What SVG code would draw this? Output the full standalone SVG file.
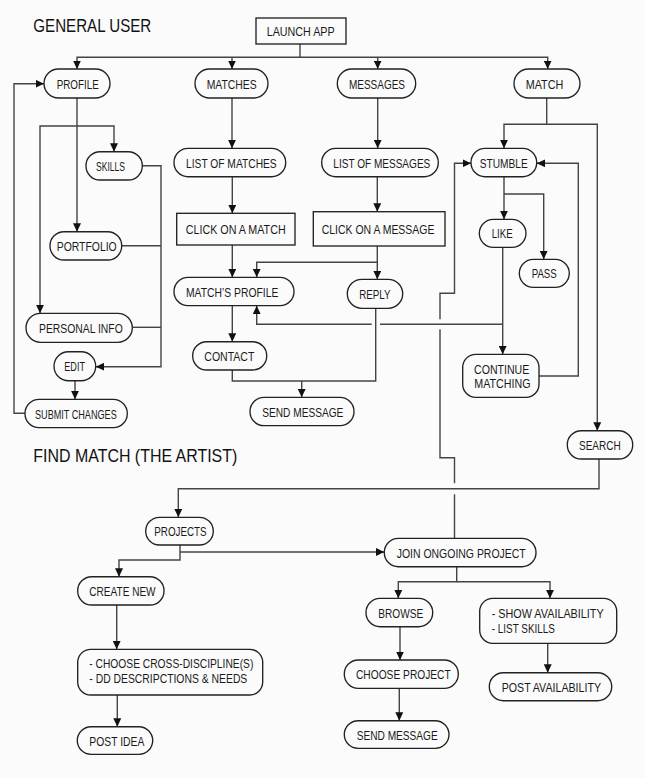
<svg xmlns="http://www.w3.org/2000/svg" width="645" height="778" viewBox="0 0 645 778">
<defs>
<marker id="ah" markerUnits="userSpaceOnUse" markerWidth="9" markerHeight="8" refX="8.5" refY="4" orient="auto">
<path d="M0,0 L8.5,4 L0,8 z" fill="#111"/>
</marker>
<style>
.bg{fill:#fbfbfb}
.n{fill:#fbfbfb;stroke:#222;stroke-width:1.35}
.t{font-family:"Liberation Sans",Arial,sans-serif;font-size:13.5px;fill:#1a1a1a}
.h{font-family:"Liberation Sans",Arial,sans-serif;font-size:18px;fill:#111}
.c{fill:none;stroke:#444;stroke-width:1.4}
.a{marker-end:url(#ah)}
</style>
</defs>
<rect class="bg" x="0" y="0" width="645" height="778"/>
<text class="h" x="33.3" y="31.5" textLength="118" lengthAdjust="spacingAndGlyphs">GENERAL USER</text>
<text class="h" x="33.3" y="461.7" textLength="204" lengthAdjust="spacingAndGlyphs">FIND MATCH (THE ARTIST)</text>

<g id="connectors">
<path class="c a" d="M300,44 V57.3 H77 V69"/>
<path class="c a" d="M300,57.3 H547.7 V69"/>
<path class="c a" d="M232,57.3 V69"/>
<path class="c a" d="M377.7,57.3 V69"/>
<path class="c a" d="M77,98 V231.7"/>
<path class="c a" d="M77,126 H114 V151.7"/>
<path class="c a" d="M77,126 H40 V313.3"/>
<path class="c a" d="M142.3,165.7 H161 V366.7 H95.7"/>
<path class="c" d="M121.7,245.7 H161"/>
<path class="c" d="M132.3,327.3 H161"/>
<path class="c a" d="M75,380.7 V399.3"/>
<path class="c a" d="M25,413.3 H14 V83.7 H44"/>
<path class="c a" d="M232,98 V148.3"/>
<path class="c a" d="M232.3,176.7 V213.3"/>
<path class="c a" d="M232.3,245 V277.3"/>
<path class="c a" d="M232.3,305.7 V341.7"/>
<path class="c" d="M232.3,370 V381 H375.7 V308.3"/>
<path class="c a" d="M301.7,381 V397.3"/>
<path class="c a" d="M377.7,98 V148.3"/>
<path class="c a" d="M377.3,176.7 V211.7"/>
<path class="c a" d="M377.3,246 V279.3"/>
<path class="c a" d="M377.3,262.3 H256.7 V277.3"/>
<path class="c a" d="M502.7,247.3 V354.3"/>
<path class="c" d="M502.7,324.3 H380"/>
<path class="c a" d="M371.7,324.3 H256.7 V305.7"/>
<path class="c a" d="M546.7,98 V124.3 H504 V148.3"/>
<path class="c a" d="M546.7,124.3 H597.3 V430.7"/>
<path class="c a" d="M504,176.7 V219.3"/>
<path class="c a" d="M504,194 H543.7 V259.3"/>
<path class="c a" d="M539,376 H578.3 V163.3 H536.7"/>
<path class="c" d="M454.5,538.3 V494.3"/>
<path class="c" d="M454.5,483.3 V457.7 H440 V329.3"/>
<path class="c a" d="M440,319.3 V293.3 H454.5 V163.3 H471"/>
<path class="c a" d="M599,459 V488.7 H178.3 V517.3"/>
<path class="c a" d="M180,545 V560 H119 V576.7"/>
<path class="c a" d="M180,552 H384.3"/>
<path class="c a" d="M456.7,566.7 V581.7 H398.3 V598.3"/>
<path class="c a" d="M456.7,581.7 H550 V598.3"/>
<path class="c a" d="M116.7,605 V649.3"/>
<path class="c a" d="M117.3,695 V726.7"/>
<path class="c a" d="M400,626.7 V660"/>
<path class="c a" d="M399.3,688.3 V720.7"/>
<path class="c a" d="M547.7,643.3 V672.7"/>
</g>

<g id="launch-app"><rect class="n" x="256" y="18" width="90" height="26"/><text class="t" x="266.7" y="36.4" textLength="68" lengthAdjust="spacingAndGlyphs">LAUNCH APP</text></g>
<g id="profile"><rect class="n" x="44" y="69" width="66" height="29" rx="14.5"/><text class="t" x="56.7" y="88.7" textLength="42" lengthAdjust="spacingAndGlyphs">PROFILE</text></g>
<g id="matches"><rect class="n" x="195" y="69" width="73" height="29" rx="14.5"/><text class="t" x="206.7" y="88.7" textLength="50" lengthAdjust="spacingAndGlyphs">MATCHES</text></g>
<g id="messages"><rect class="n" x="337.3" y="69" width="78.4" height="29" rx="14.5"/><text class="t" x="349" y="88.7" textLength="56" lengthAdjust="spacingAndGlyphs">MESSAGES</text></g>
<g id="match"><rect class="n" x="514" y="69" width="66" height="29" rx="14.5"/><text class="t" x="525.7" y="88.7" textLength="37.6" lengthAdjust="spacingAndGlyphs">MATCH</text></g>
<g id="skills"><rect class="n" x="86" y="151.7" width="56.3" height="28.3" rx="14"/><text class="t" x="96" y="170.9" textLength="29" lengthAdjust="spacingAndGlyphs">SKILLS</text></g>
<g id="list-of-matches"><rect class="n" x="174" y="148.3" width="111.7" height="28.4" rx="14"/><text class="t" x="186" y="167.5" textLength="90.7" lengthAdjust="spacingAndGlyphs">LIST OF MATCHES</text></g>
<g id="list-of-messages"><rect class="n" x="321.7" y="148.3" width="116.6" height="28.4" rx="14"/><text class="t" x="333.3" y="167.5" textLength="97" lengthAdjust="spacingAndGlyphs">LIST OF MESSAGES</text></g>
<g id="stumble"><rect class="n" x="471" y="148.3" width="65.7" height="28.4" rx="14"/><text class="t" x="479.7" y="167.5" textLength="48" lengthAdjust="spacingAndGlyphs">STUMBLE</text></g>
<g id="portfolio"><rect class="n" x="50" y="231.7" width="71.7" height="28.3" rx="14"/><text class="t" x="56.7" y="250.9" textLength="60" lengthAdjust="spacingAndGlyphs">PORTFOLIO</text></g>
<g id="click-on-a-match"><rect class="n" x="176.7" y="213.3" width="118.3" height="31.7"/><text class="t" x="185.7" y="234.2" textLength="100" lengthAdjust="spacingAndGlyphs">CLICK ON A MATCH</text></g>
<g id="click-on-a-message"><rect class="n" x="313.3" y="211.7" width="131.7" height="34.3"/><text class="t" x="321.7" y="234.2" textLength="112.7" lengthAdjust="spacingAndGlyphs">CLICK ON A MESSAGE</text></g>
<g id="like"><rect class="n" x="479.3" y="219.3" width="46.7" height="28" rx="14"/><text class="t" x="491.7" y="238.4" textLength="21" lengthAdjust="spacingAndGlyphs">LIKE</text></g>
<g id="pass"><rect class="n" x="519.3" y="259.3" width="50" height="28" rx="14"/><text class="t" x="531.7" y="278.4" textLength="25" lengthAdjust="spacingAndGlyphs">PASS</text></g>
<g id="matchs-profile"><rect class="n" x="174" y="277.3" width="120" height="28.4" rx="14"/><text class="t" x="186" y="296.5" textLength="92.3" lengthAdjust="spacingAndGlyphs">MATCH’S PROFILE</text></g>
<g id="reply"><rect class="n" x="347.3" y="279.3" width="55.4" height="29" rx="14.5"/><text class="t" x="359.3" y="298.8" textLength="31.3" lengthAdjust="spacingAndGlyphs">REPLY</text></g>
<g id="personal-info"><rect class="n" x="26" y="313.3" width="106.3" height="29" rx="14.5"/><text class="t" x="39" y="332.8" textLength="83.7" lengthAdjust="spacingAndGlyphs">PERSONAL INFO</text></g>
<g id="contact"><rect class="n" x="192.7" y="341.7" width="74" height="28.3" rx="14"/><text class="t" x="204.3" y="360.9" textLength="50" lengthAdjust="spacingAndGlyphs">CONTACT</text></g>
<g id="edit"><rect class="n" x="54" y="351.7" width="41.7" height="29" rx="14.5"/><text class="t" x="64.3" y="371.2" textLength="20.7" lengthAdjust="spacingAndGlyphs">EDIT</text></g>
<g id="continue-matching"><rect class="n" x="462.7" y="354.3" width="76.3" height="43" rx="13"/><text class="t" x="474" y="373.5" textLength="55.3" lengthAdjust="spacingAndGlyphs">CONTINUE</text><text class="t" x="474.3" y="388.1" textLength="56.3" lengthAdjust="spacingAndGlyphs">MATCHING</text></g>
<g id="send-message-1"><rect class="n" x="250" y="397.3" width="104" height="28.4" rx="14"/><text class="t" x="262.3" y="416.5" textLength="81" lengthAdjust="spacingAndGlyphs">SEND MESSAGE</text></g>
<g id="submit-changes"><rect class="n" x="25" y="399.3" width="102.3" height="28.4" rx="14"/><text class="t" x="35" y="418.5" textLength="81.7" lengthAdjust="spacingAndGlyphs">SUBMIT CHANGES</text></g>
<g id="search"><rect class="n" x="567.3" y="430.7" width="65.4" height="28.3" rx="14"/><text class="t" x="579" y="449.9" textLength="41.7" lengthAdjust="spacingAndGlyphs">SEARCH</text></g>
<g id="projects"><rect class="n" x="145.7" y="517.3" width="67.6" height="27.7" rx="13.8"/><text class="t" x="154.3" y="536.2" textLength="52.3" lengthAdjust="spacingAndGlyphs">PROJECTS</text></g>
<g id="join-ongoing-project"><rect class="n" x="384.3" y="538.3" width="151.7" height="28.4" rx="14"/><text class="t" x="396.7" y="557.5" textLength="129" lengthAdjust="spacingAndGlyphs">JOIN ONGOING PROJECT</text></g>
<g id="create-new"><rect class="n" x="77.7" y="576.7" width="86.3" height="28.3" rx="14"/><text class="t" x="89.3" y="595.9" textLength="66.3" lengthAdjust="spacingAndGlyphs">CREATE NEW</text></g>
<g id="browse"><rect class="n" x="366" y="598.3" width="66.7" height="28.4" rx="14"/><text class="t" x="378.3" y="617.5" textLength="45" lengthAdjust="spacingAndGlyphs">BROWSE</text></g>
<g id="show-availability"><rect class="n" x="479.7" y="598.3" width="137" height="45" rx="13"/><text class="t" x="491.7" y="617.5" textLength="112" lengthAdjust="spacingAndGlyphs">- SHOW AVAILABILITY</text><text class="t" x="491.7" y="632.5" textLength="63.3" lengthAdjust="spacingAndGlyphs">- LIST SKILLS</text></g>
<g id="choose-cross-discipline"><rect class="n" x="77.7" y="649.3" width="185" height="45.7" rx="13"/><text class="t" x="89.3" y="667.9" textLength="164" lengthAdjust="spacingAndGlyphs">- CHOOSE CROSS-DISCIPLINE(S)</text><text class="t" x="89.3" y="682.9" textLength="158" lengthAdjust="spacingAndGlyphs">- DD DESCRIPCTIONS &amp; NEEDS</text></g>
<g id="choose-project"><rect class="n" x="344.3" y="660" width="114" height="28.3" rx="14"/><text class="t" x="356" y="679.2" textLength="94.7" lengthAdjust="spacingAndGlyphs">CHOOSE PROJECT</text></g>
<g id="post-availability"><rect class="n" x="489.3" y="672.7" width="122.4" height="28" rx="14"/><text class="t" x="501.7" y="691.8" textLength="99.3" lengthAdjust="spacingAndGlyphs">POST AVAILABILITY</text></g>
<g id="send-message-2"><rect class="n" x="344.3" y="720.7" width="104.7" height="27.6" rx="13.8"/><text class="t" x="356.7" y="739.6" textLength="81" lengthAdjust="spacingAndGlyphs">SEND MESSAGE</text></g>
<g id="post-idea"><rect class="n" x="77.3" y="726.7" width="75.4" height="27.6" rx="13.8"/><text class="t" x="89.3" y="745.6" textLength="55" lengthAdjust="spacingAndGlyphs">POST IDEA</text></g>
</svg>
